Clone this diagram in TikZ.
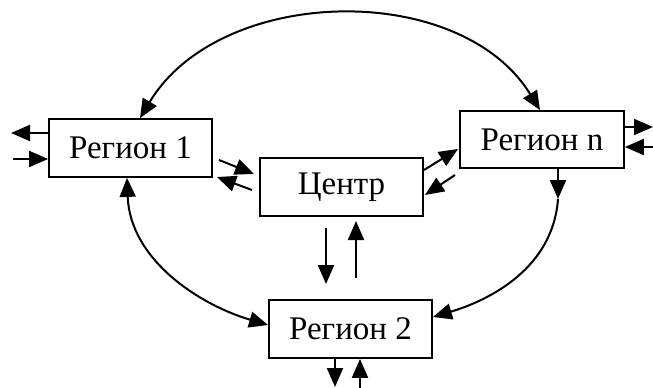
\documentclass[tikz,border=0pt]{standalone}
\usepackage{fontspec}
\setmainfont{Liberation Serif}
\usetikzlibrary{arrows.meta,calc}
\tikzset{
  regbox/.style={draw, line width=1.8pt, minimum width=163pt, minimum height=58pt, inner sep=0pt, font=\fontsize{33}{38}\selectfont},
  tipstyle/.style={},
  conn/.style={line width=2pt, -{Triangle[length=19pt,width=16pt]}},
  biconn/.style={line width=2pt, {Triangle[length=19pt,width=16pt]}-{Triangle[length=19pt,width=16pt]}}
}
\begin{document}
\begin{tikzpicture}[x=1pt,y=-1pt]
\useasboundingbox (0,0) rectangle (653,388);
\node[regbox] (r1) at (130.5,148) {Регион 1};
\node[regbox, minimum width=164pt, minimum height=57pt] (rn) at (542,139.5) {Регион n};
\node[regbox] (c) at (341.5,187) {Центр};
\node[regbox] (r2) at (350.5,329) {Регион 2};

% outer coordinates
\coordinate (r1out) at (11,133);
\coordinate (r1in) at (13,159);
\coordinate (rnout) at (653,127);
\coordinate (rnin) at (653,147);
\coordinate (r2out) at (335,387);
\coordinate (r2in) at (360,388);
\coordinate (rnmid) at (558,199);

% Region 1 external
\draw[conn] (r1.west |- r1out) -- (r1out);
\draw[conn] (r1in) -- (r1.west |- r1in);
% Region n external
\draw[conn] (rn.east |- rnout) -- (rnout);
\draw[conn] (rnin) -- (rn.east |- rnin);
% Region 2 external
\draw[conn] (r2.south -| r2out) -- (r2out);
\draw[conn] (r2in) -- (r2.south -| r2in);

% Center <-> Region 1
\coordinate (a1s) at (219,160); \coordinate (a1e) at (254,174);
\coordinate (a2s) at (252,190); \coordinate (a2e) at (217,177);
\draw[conn] (a1s) -- (a1e);
\draw[conn] (a2s) -- (a2e);
% Center <-> Region n
\coordinate (b1s) at (424,170); \coordinate (b1e) at (458,149);
\coordinate (b2s) at (455,175); \coordinate (b2e) at (425,195);
\draw[conn] (b1s) -- (b1e);
\draw[conn] (b2s) -- (b2e);
% Center <-> Region 2
\coordinate (d1s) at (326,228); \coordinate (d1e) at (326,284);
\coordinate (d2s) at (356,278); \coordinate (d2e) at (356,221);
\draw[conn] (d1s) -- (d1e);
\draw[conn] (d2s) -- (d2e);

% top arc Region 1 <-> Region n
\draw[biconn] ($(r1.north)+(9.5,0)$) .. controls (220,-15) and (460,-20) .. ($(rn.north)+(-2,0)$);
% Region 1 <-> Region 2
\draw[biconn] ($(r1.south)+(-3.5,0)$) .. controls (130,260) and (200,305) .. ($(r2.west)+(0,-4)$);
% Region n -> Region 2
\draw[conn] (rn.south -| rnmid) -- (rnmid);
\draw[conn] (rnmid) .. controls (553,268) and (490,300) .. ($(r2.east)+(0,-12)$);
\end{tikzpicture}
\end{document}
